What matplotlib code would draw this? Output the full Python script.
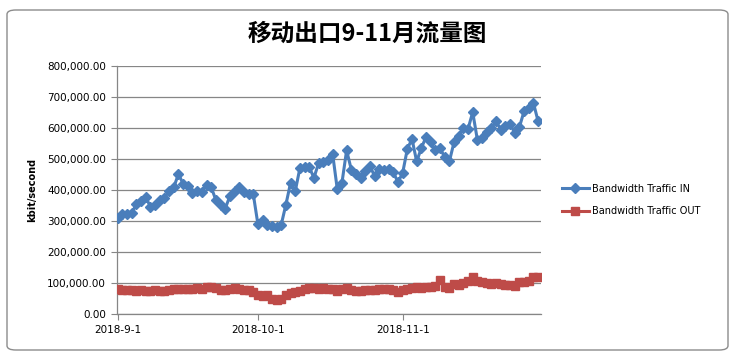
import numpy as np
import pandas as pd
import matplotlib
matplotlib.use("Agg")
import matplotlib.pyplot as plt
from matplotlib.patches import FancyBboxPatch
from matplotlib.ticker import FuncFormatter

# Daily values, 2018-09-01 .. 2018-11-30 (kbit/second)
dates = pd.date_range("2018-09-01", "2018-11-30", freq="D")

traffic_in = [
    309, 321, 322, 327, 354, 366, 376, 346, 352, 368,   # 9-1 .. 9-10
    375, 398, 409, 452, 419, 413, 391, 398, 395, 416,   # 9-11 .. 9-20
    409, 368, 353, 340, 380, 396, 410, 392, 388, 388,   # 9-21 .. 9-30
    290, 304, 286, 283, 281, 288, 353, 423, 396, 471,   # 10-1 .. 10-10
    474, 474, 439, 487, 489, 496, 517, 403, 423, 528,   # 10-11 .. 10-20
    466, 453, 439, 460, 478, 444, 468, 466, 468, 457,   # 10-21 .. 10-30
    425, 455, 532, 565, 492, 535, 571, 554, 528, 535,   # 10-31 .. 11-9
    506, 492, 554, 575, 600, 597, 651, 562, 568, 586,   # 11-10 .. 11-19
    600, 622, 595, 608, 614, 584, 603, 654, 665, 681,   # 11-20 .. 11-29
    622,                                                # 11-30
]
traffic_out = [
    80, 78, 76, 77, 75, 76, 74, 75, 76, 74,
    75, 76, 80, 82, 81, 80, 82, 83, 82, 86,
    88, 85, 78, 76, 82, 84, 82, 78, 76, 70,
    62, 58, 60, 50, 45, 47, 62, 68, 72, 75,
    80, 83, 85, 82, 84, 82, 82, 75, 80, 84,
    76, 75, 74, 78, 79, 79, 80, 80, 80, 79,
    72, 78, 82, 85, 86, 84, 86, 88, 90, 110,
    88, 85, 98, 92, 100, 108, 118, 105, 102, 100,
    98, 100, 98, 95, 94, 90, 102, 104, 106, 118,
    120,
]
traffic_in = np.array(traffic_in) * 1000.0
traffic_out = np.array(traffic_out) * 1000.0

month_ticks = pd.to_datetime(["2018-09-01", "2018-10-01", "2018-11-01"])
month_labels = [f"{d.year}-{d.month}-{d.day}" for d in month_ticks]

BLUE = "#4A7EBB"
RED = "#BE4B48"
GRID = "#868686"

fig = plt.figure(figsize=(7.37, 3.59), dpi=100)
fig.patch.set_facecolor("white")

# Excel-style chart frame
frame = FancyBboxPatch((7 / 737, 9 / 359), 721 / 737, 340 / 359,
                       boxstyle="round,pad=0,rounding_size=0.012",
                       transform=fig.transFigure, facecolor="white",
                       edgecolor="#8c8c8c", linewidth=1.0, zorder=-1)
fig.patches.append(frame)

ax = fig.add_axes([117 / 737, 1 - 314 / 359, 424 / 737, 248 / 359])
ax.set_zorder(2)
ax.set_facecolor("none")

ax.plot(dates, traffic_in, color=BLUE, lw=2.2, marker="D", ms=5.4,
        mec=BLUE, mfc=BLUE, label="Bandwidth Traffic IN", zorder=3)
ax.plot(dates, traffic_out, color=RED, lw=2.2, marker="s", ms=5.8,
        mec=RED, mfc=RED, label="Bandwidth Traffic OUT", zorder=3)

ax.set_ylim(0, 800000)
ax.set_yticks(np.arange(0, 800001, 100000))
ax.yaxis.set_major_formatter(FuncFormatter(lambda v, p: f"{v:,.2f}"))
ax.set_xlim(dates[0] - pd.Timedelta(hours=4), dates[-1] + pd.Timedelta(hours=15))
ax.set_xticks(month_ticks)
ax.set_xticklabels(month_labels)

ax.grid(axis="y", color=GRID, lw=0.9)
ax.set_axisbelow(True)
for s in ["top", "right"]:
    ax.spines[s].set_visible(False)
for s in ["left", "bottom"]:
    ax.spines[s].set_color(GRID)
    ax.spines[s].set_linewidth(0.9)
ax.tick_params(axis="y", length=4, color=GRID, labelsize=7.5, pad=4)
ax.tick_params(axis="x", length=4, color=GRID, labelsize=7.5, pad=4)

ax.set_ylabel("kbit/second", fontsize=7, fontweight="bold", labelpad=7)

fig.text(367 / 737, 1 - 34 / 359, "移动出口9-11月流量图", ha="center", va="center",
         fontsize=17, fontweight="bold", family=["Noto Sans CJK SC", "DejaVu Sans"])

fig.legend(loc="center left", bbox_to_anchor=(553 / 737, 1 - 200 / 359),
           frameon=False, fontsize=7, handlelength=2.8, labelspacing=1.3,
           handletextpad=0.3)

fig.savefig("out.png", dpi=100)
